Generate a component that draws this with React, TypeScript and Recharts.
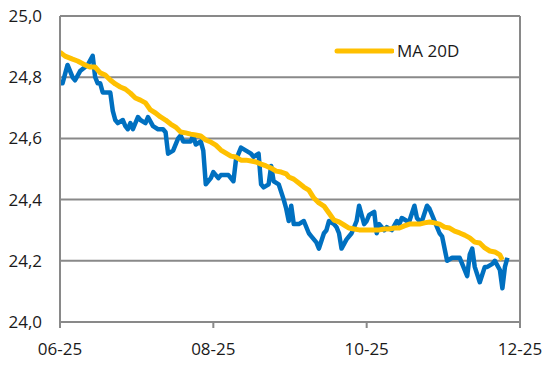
import {
  LineChart,
  Line,
  XAxis,
  YAxis,
  CartesianGrid,
  Legend,
  ReferenceLine,
} from "recharts";

// x = calendar days since 1 June 2025
const spotDays = [
  0, 1, 3, 5, 6, 8, 11, 13, 14, 15, 16, 17, 19, 20, 21, 22, 23, 25, 26, 27, 28, 29, 31, 32, 34, 35, 37, 39, 41, 42,
  43, 45, 47, 48, 49, 50, 52, 53, 54, 56, 57, 58, 60, 61, 63, 64, 67, 69, 70, 72, 74, 76, 77, 79, 80, 81, 83, 84,
  85, 87, 89, 90, 91, 92, 93, 95, 97, 99, 100, 102, 103, 105, 106, 107, 109, 110, 111, 112, 114, 116, 118, 119,
  121, 122, 123, 125, 126, 127, 129, 130, 132, 134, 135, 136, 138, 139, 141, 142, 143, 144, 146, 147, 148, 150,
  151, 152, 154, 156, 158, 159, 160, 162, 163, 164, 165, 167, 169, 170, 172, 173, 175, 176, 177, 178,
];
const spotValues = [
  24.78, 24.78, 24.84, 24.8, 24.79, 24.82, 24.84, 24.87, 24.8, 24.78, 24.78, 24.75, 24.75, 24.75, 24.69, 24.66,
  24.65, 24.66, 24.64, 24.63, 24.65, 24.63, 24.67, 24.66, 24.65, 24.67, 24.64, 24.63, 24.63, 24.62, 24.55, 24.56,
  24.6, 24.61, 24.59, 24.59, 24.59, 24.61, 24.58, 24.59, 24.56, 24.45, 24.47, 24.49, 24.47, 24.48, 24.48, 24.46,
  24.53, 24.57, 24.56, 24.55, 24.54, 24.55, 24.45, 24.44, 24.45, 24.51, 24.46, 24.45, 24.4, 24.37, 24.33, 24.38,
  24.32, 24.32, 24.33, 24.29, 24.28, 24.26, 24.24, 24.29, 24.3, 24.33, 24.32, 24.31, 24.29, 24.24, 24.27, 24.29,
  24.33, 24.38, 24.32, 24.33, 24.35, 24.36, 24.29, 24.32, 24.3, 24.31, 24.3, 24.33, 24.32, 24.34, 24.33, 24.33,
  24.38, 24.34, 24.33, 24.33, 24.38, 24.37, 24.35, 24.31, 24.29, 24.28, 24.2, 24.21, 24.21, 24.21, 24.19, 24.15,
  24.22, 24.24, 24.18, 24.13, 24.18, 24.18, 24.19, 24.2, 24.17, 24.11, 24.18, 24.21,
];

const maDays = [
  0, 2, 5, 7, 10, 12, 14, 16, 18, 20, 22, 24, 26, 28, 30, 32, 34, 36, 38, 40, 42, 44, 46, 48, 50, 52, 54, 56, 58,
  60, 62, 64, 66, 68, 70, 72, 74, 76, 78, 80, 82, 84, 86, 88, 90, 91, 93, 95, 97, 99, 101, 103, 105, 107, 109,
  111, 113, 115, 117, 119, 121, 123, 125, 127, 129, 131, 133, 135, 137, 139, 141, 143, 145, 147, 149, 151, 153,
  155, 157, 159, 161, 163, 165, 167, 169, 171, 173, 175, 176,
];
const maValues = [
  24.882, 24.869, 24.859, 24.853, 24.84, 24.833, 24.833, 24.814, 24.807, 24.791, 24.778, 24.768, 24.761, 24.748,
  24.732, 24.725, 24.716, 24.693, 24.683, 24.67, 24.66, 24.647, 24.637, 24.621, 24.618, 24.614, 24.611, 24.608,
  24.595, 24.588, 24.578, 24.562, 24.552, 24.542, 24.539, 24.529, 24.529, 24.526, 24.523, 24.516, 24.51, 24.503,
  24.493, 24.49, 24.484, 24.474, 24.467, 24.454, 24.441, 24.431, 24.405, 24.389, 24.379, 24.356, 24.333, 24.327,
  24.317, 24.307, 24.304, 24.301, 24.301, 24.301, 24.301, 24.301, 24.304, 24.304, 24.307, 24.307, 24.314, 24.32,
  24.32, 24.32, 24.324, 24.327, 24.324, 24.32, 24.31, 24.307, 24.297, 24.291, 24.284, 24.275, 24.261, 24.258,
  24.242, 24.232, 24.229, 24.219, 24.203,
];

const xTickDays = [0, 61, 122, 183];
const xTickLabels = ["06-25", "08-25", "10-25", "12-25"];
const yTicks = [24.0, 24.2, 24.4, 24.6, 24.8, 25.0];

const spotData = spotDays.map((d, i) => ({ d, spot: spotValues[i] }));
const maData = maDays.map((d, i) => ({ d, ma: maValues[i] }));

const GRID = "#898989";
const BLUE = "#0070C0";
const GOLD = "#FFC000";
const TEXT = "#1a1a1a";
const FONT = "'Open Sans', sans-serif";

const MaLegend = () => (
  <div style={{ display: "flex", alignItems: "center", fontFamily: FONT, fontSize: 17, color: TEXT }}>
    <svg width={60} height={10}>
      <line x1={3} y1={5} x2={58} y2={5} stroke={GOLD} strokeWidth={5} strokeLinecap="round" />
    </svg>
    <span style={{ marginLeft: 3 }}>MA 20D</span>
  </div>
);

export default function App() {
  return (
    <div style={{ width: 555, height: 370, background: "#fff" }}>
      <style>{`body{margin:0}`}</style>
      <LineChart width={555} height={370} margin={{ top: 16, right: 35, bottom: 18, left: 0 }}>
        <CartesianGrid vertical={false} stroke={GRID} strokeWidth={2} />
        <XAxis
          type="number"
          dataKey="d"
          domain={[0, 183]}
          ticks={xTickDays}
          tickFormatter={(v: number) => xTickLabels[xTickDays.indexOf(v)] ?? ""}
          height={30}
          stroke={GRID}
          strokeWidth={2}
          tickSize={6}
          tickMargin={15}
          tick={{ fill: TEXT, fontSize: 17, fontFamily: FONT }}
          allowDataOverflow
        />
        <YAxis
          type="number"
          domain={[24, 25]}
          ticks={yTicks}
          tickFormatter={(v: number) => v.toFixed(1).replace(".", ",")}
          width={60}
          stroke={GRID}
          strokeWidth={2}
          tickLine={false}
          tickSize={6}
          tickMargin={12}
          tick={{ fill: TEXT, fontSize: 17, fontFamily: FONT }}
          allowDataOverflow
        />
        <ReferenceLine x={183} stroke={GRID} strokeWidth={2} />
        <Line
          data={spotData}
          dataKey="spot"
          type="linear"
          stroke={BLUE}
          strokeWidth={4.5}
          strokeLinejoin="round"
          dot={false}
          isAnimationActive={false}
        />
        <Line
          data={maData}
          dataKey="ma"
          type="linear"
          stroke={GOLD}
          strokeWidth={5}
          strokeLinejoin="round"
          dot={false}
          isAnimationActive={false}
        />
        <Legend
          content={<MaLegend />}
          layout="horizontal"
          verticalAlign="middle"
          align="center"
          wrapperStyle={{ top: 39, left: 334, width: "auto" }}
        />
      </LineChart>
    </div>
  );
}
